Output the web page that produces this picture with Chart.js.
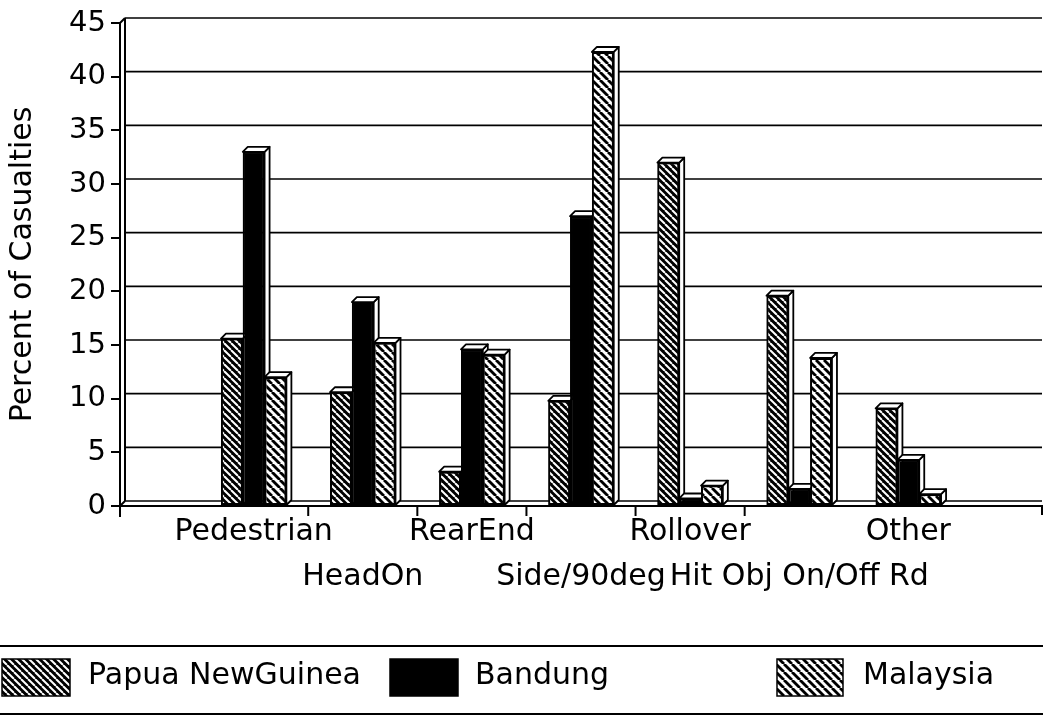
<!DOCTYPE html>
<html>
<head>
<meta charset="utf-8">
<title>Percent of Casualties by crash type</title>
<script src="https://cdn.jsdelivr.net/npm/chart.js@4.4.1/dist/chart.umd.min.js"></script>
<style>
  html, body { margin: 0; padding: 0; background: #fff; }
  #wrap { width: 1043px; height: 720px; position: relative; }
</style>
</head>
<body>
<div id="wrap"><canvas id="chart"></canvas></div>
<script>
// ---- data ----
const categories = ['Pedestrian', 'HeadOn', 'RearEnd', 'Side/90deg', 'Rollover', 'Hit Obj On/Off Rd', 'Other'];
const papuaNewGuinea = [15.6, 10.6, 3.2, 9.8, 32.0, 19.6, 9.1];
const bandung        = [33.0, 19.0, 14.6, 27.0, 0.7, 1.6, 4.3];
const malaysia       = [12.0, 15.2, 14.1, 42.3, 1.9, 13.8, 1.1];
const seriesNames    = ['Papua NewGuinea', 'Bandung', 'Malaysia'];
const yTicks         = [0, 5, 10, 15, 20, 25, 30, 35, 40, 45];

// ---- styling ----
const FONT = 'DejaVu Sans';
const DEPTH = 5;          // 3-D depth offset of walls and bars
const X_PAD = 0.725;      // empty floor on each side of the category block

function hatch(bg, fg, lw, period) {
  const c = document.createElement('canvas');
  c.width = c.height = period;
  const g = c.getContext('2d');
  g.fillStyle = bg;
  g.fillRect(0, 0, period, period);
  g.strokeStyle = fg;
  g.lineWidth = lw;
  for (let k = -1; k <= 1; k++) {
    g.beginPath();
    g.moveTo(k * period, 0);
    g.lineTo(k * period + period, period);
    g.stroke();
  }
  return g.createPattern(c, 'repeat');
}

const fills = [
  hatch('#000', '#fff', 2.0, 7),   // dense dark hatch
  '#000',                          // solid black
  hatch('#fff', '#000', 2.8, 8)    // light hatch
];

const seriesValues = [papuaNewGuinea, bandung, malaysia];

function line(ctx, x1, y1, x2, y2) {
  ctx.beginPath();
  ctx.moveTo(x1, y1);
  ctx.lineTo(x2, y2);
  ctx.stroke();
}
function poly(ctx, pts) {
  ctx.beginPath();
  ctx.moveTo(pts[0][0], pts[0][1]);
  for (let i = 1; i < pts.length; i++) ctx.lineTo(pts[i][0], pts[i][1]);
  ctx.closePath();
  ctx.fill();
  ctx.stroke();
}

// back wall, floor and gridlines drawn behind the bars; bar depth faces on top
const frame3d = {
  id: 'frame3d',
  beforeDatasetsDraw(chart) {
    const { ctx, chartArea: a, scales: { y } } = chart;
    ctx.save();
    ctx.strokeStyle = '#000';
    ctx.lineWidth = 1.7;
    yTicks.forEach(v => {
      const py = y.getPixelForValue(v) - DEPTH;
      line(ctx, a.left + DEPTH, py, a.right, py);
    });
    ctx.lineWidth = 2;
    line(ctx, a.left + DEPTH, a.top - DEPTH, a.left + DEPTH, a.bottom - DEPTH);
    line(ctx, a.left, a.top, a.left + DEPTH, a.top - DEPTH);
    line(ctx, a.left, a.bottom, a.left + DEPTH, a.bottom - DEPTH);
    ctx.restore();
  },
  afterDatasetsDraw(chart) {
    const { ctx, chartArea: a, scales: { x } } = chart;
    ctx.save();
    for (let i = 0; i < categories.length; i++) {
      for (let j = 0; j < chart.data.datasets.length; j++) {
        const el = chart.getDatasetMeta(j).data[i];
        if (!el) continue;
        el.draw(ctx);
        const p = el.getProps(['x', 'y', 'base', 'width'], true);
        const l = p.x - p.width / 2, r = p.x + p.width / 2;
        ctx.fillStyle = '#fff';
        ctx.strokeStyle = '#000';
        ctx.lineWidth = 1.8;
        ctx.lineJoin = 'round';
        poly(ctx, [[r, p.y], [r + DEPTH, p.y - DEPTH], [r + DEPTH, p.base - DEPTH], [r, p.base]]);
        poly(ctx, [[l, p.y], [l + DEPTH, p.y - DEPTH], [r + DEPTH, p.y - DEPTH], [r, p.y]]);
      }
    }
    // tick marks on the category axis, between categories and at both ends
    ctx.strokeStyle = '#000';
    ctx.lineWidth = 2;
    for (let k = 1; k < categories.length - 1; k++) {
      const px = x.getPixelForValue(k - 0.5);
      line(ctx, px, a.bottom, px, a.bottom + 10);
    }
    line(ctx, a.left, a.bottom, a.left, a.bottom + 11);
    line(ctx, a.right, a.bottom, a.right, a.bottom + 9);
    ctx.restore();
  }
};

// legend band across the bottom
const legendBand = {
  id: 'legendBand',
  afterDraw(chart) {
    const { ctx, width } = chart;
    const items = [
      { sx: 2,   sw: 68, tx: 88 },
      { sx: 390, sw: 68, tx: 475 },
      { sx: 777, sw: 66, tx: 863 }
    ];
    ctx.save();
    ctx.strokeStyle = '#000';
    ctx.lineWidth = 2;
    line(ctx, 0, 646, width, 646);
    line(ctx, 0, 714, width, 714);
    ctx.font = '30px "' + FONT + '"';
    ctx.textBaseline = 'middle';
    ctx.textAlign = 'left';
    chart.data.datasets.forEach((ds, j) => {
      const it = items[j];
      ctx.fillStyle = ds.backgroundColor;
      ctx.fillRect(it.sx, 659, it.sw, 37);
      ctx.lineWidth = 1.5;
      ctx.strokeRect(it.sx, 659, it.sw, 37);
      ctx.fillStyle = '#000';
      ctx.fillText(ds.label, it.tx, 676);
    });
    ctx.restore();
  }
};

new Chart(document.getElementById('chart'), {
  type: 'bar',
  data: {
    datasets: seriesNames.map((name, j) => ({
      label: name,
      data: seriesValues[j].map((v, i) => ({ x: i, y: v })),
      backgroundColor: fills[j],
      borderColor: '#000',
      borderWidth: 2,
      borderSkipped: false,
      categoryPercentage: 0.6,
      barPercentage: 1.0
    }))
  },
  options: {
    responsive: true,
    maintainAspectRatio: false,
    animation: false,
    events: [],
    layout: { padding: { top: 23, right: 1, left: 0, bottom: 0 } },
    plugins: {
      legend: { display: false },
      tooltip: { enabled: false }
    },
    scales: {
      x: {
        type: 'linear',
        min: -0.5 - X_PAD,
        max: categories.length - 0.5 + X_PAD,
        offset: false,
        bounds: 'data',
        afterBuildTicks: s => { s.ticks = categories.map((_, i) => ({ value: i })); },
        afterFit: s => { s.height = 214; },
        grid: { display: false, drawTicks: false, offset: false },
        border: { display: true, color: '#000', width: 2 },
        ticks: {
          autoSkip: false,
          maxRotation: 0,
          minRotation: 0,
          padding: 4,
          color: '#000',
          font: { family: FONT, size: 30, lineHeight: 1.5 },
          callback: v => (v % 2 === 0 ? [categories[v], ''] : ['', categories[v]])
        }
      },
      y: {
        min: 0,
        max: 45,
        afterBuildTicks: s => { s.ticks = yTicks.map(v => ({ value: v })); },
        afterFit: s => { s.width = 120; },
        grid: { drawOnChartArea: false, drawTicks: true, tickLength: 9, color: '#000', lineWidth: 2 },
        border: { display: true, color: '#000', width: 2 },
        ticks: { color: '#000', padding: 5, font: { family: FONT, size: 29 } },
        title: {
          display: true,
          text: 'Percent of Casualties',
          color: '#000',
          font: { family: FONT, size: 30, lineHeight: 1 },
          padding: { top: 8, bottom: 0 }
        }
      }
    }
  },
  plugins: [frame3d, legendBand]
});
</script>
</body>
</html>
